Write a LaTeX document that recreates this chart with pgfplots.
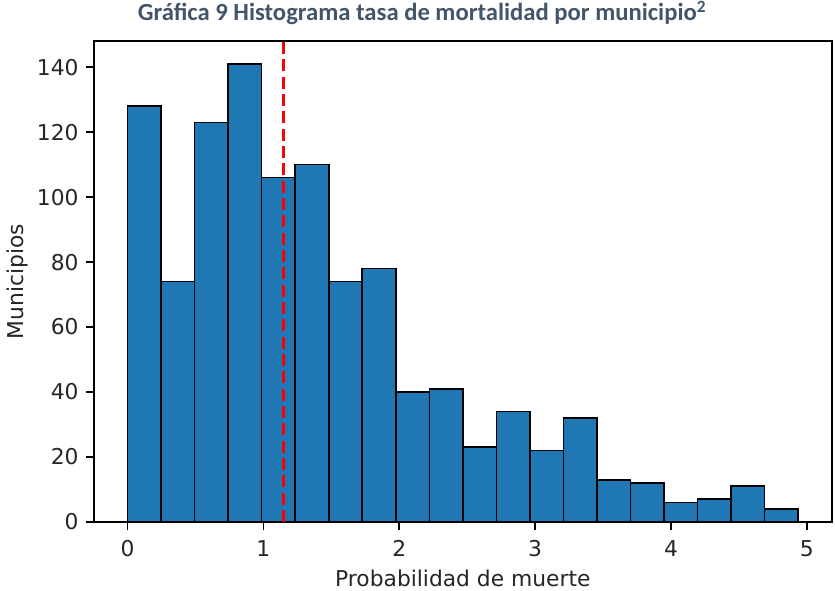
\documentclass[border=0pt]{standalone}
\usepackage{fontspec}
\setmainfont{DejaVu Sans}
\newfontfamily\carlito{Carlito}
\usepackage{pgfplots}
\pgfplotsset{compat=1.18}
\definecolor{mplblue}{HTML}{1F77B4}
\definecolor{captionblue}{HTML}{44546A}
\begin{document}
\begin{tikzpicture}
\path[use as bounding box] (-70.5pt,-51.75pt) rectangle (555.75pt,391.5pt);
\begin{axis}[
  at={(0,0)}, anchor=south west,
  scale only axis, width=553.3pt, height=360.75pt,
  xmin=-0.2468, xmax=5.1828, ymin=0, ymax=148.05,
  xtick={0,1,2,3,4,5}, ytick={0,20,40,60,80,100,120,140},
  tick align=outside, tick pos=left,
  major tick length=5.7pt,
  every tick/.style={black, line width=1.2pt},
  axis line style={black, line width=1.2pt},
  /pgf/number format/assume math mode=true,
  tick label style={font=\fontsize{16.35pt}{19pt}\selectfont, text=black!85},
  xticklabel style={anchor=base, inner sep=0pt, yshift=-20.3pt},
  yticklabel style={anchor=east, inner sep=0pt, xshift=-5.7pt},
  label style={font=\fontsize{16.35pt}{19pt}\selectfont, text=black!85},
  xlabel={Probabilidad de muerte},
  ylabel={Municipios},
  xlabel style={at={(axis description cs:0.5,0)}, anchor=base, inner sep=0pt, yshift=-48.2pt},
  ylabel style={at={(axis description cs:-0.0888,0.5)}, anchor=south, rotate=0, inner sep=0pt},
  clip=false,
]
\addplot[ybar interval, fill=mplblue, draw=black, line width=1.2pt] coordinates {
  (0.0000,128) (0.2468,74) (0.4936,123) (0.7404,141) (0.9872,106)
  (1.2340,110) (1.4808,74) (1.7276,78) (1.9744,40) (2.2212,41)
  (2.4680,23) (2.7148,34) (2.9616,22) (3.2084,32) (3.4552,13)
  (3.7020,12) (3.9488,6) (4.1956,7) (4.4424,11) (4.6892,4)
  (4.9360,4)
};
\addplot[red, line width=2.45pt, dash pattern=on 9.1pt off 3.9pt] coordinates {(1.146,0) (1.146,148.05)};
\node[anchor=base, inner sep=0pt, font=\carlito\bfseries\fontsize{18.5pt}{21pt}\selectfont, text=captionblue]
  at ([yshift=15.2pt]axis description cs:0.4446,1) {Gráfica 9 Histograma tasa de mortalidad por municipio\textsuperscript{2}};
\end{axis}
\end{tikzpicture}
\end{document}
